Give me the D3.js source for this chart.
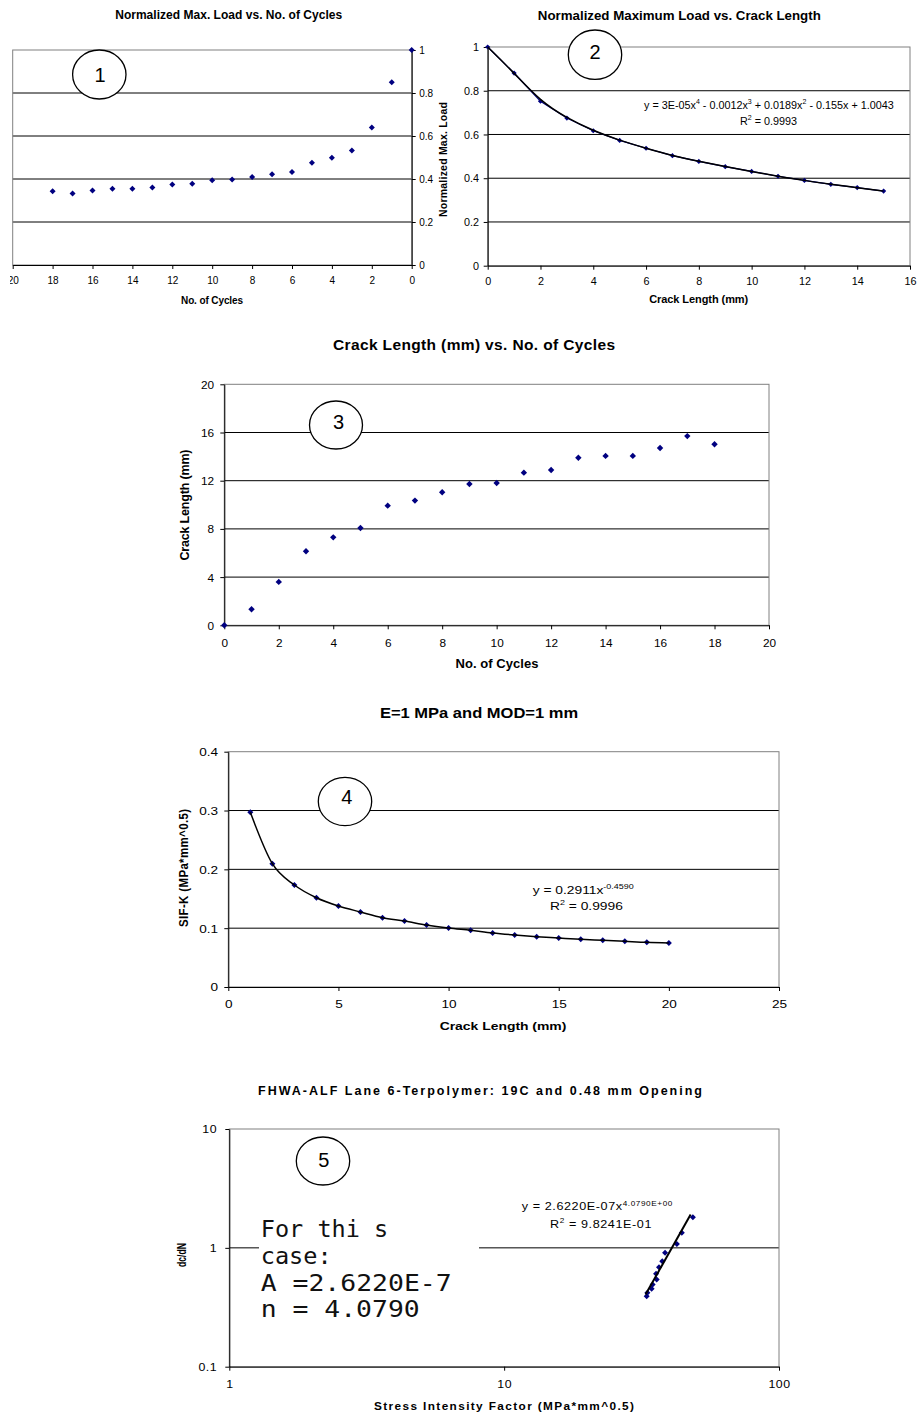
<!DOCTYPE html>
<html>
<head>
<meta charset="utf-8">
<script src="https://cdn.jsdelivr.net/npm/d3@7"></script>
<style>
  body { margin: 0; background: #fff; }
  svg { display: block; font-family: "Liberation Sans", Arial, sans-serif; }
</style>
</head>
<body>
<svg id="page" width="918" height="1418"></svg>
<script>
// chart 1: normalized max load vs cycles (reversed x)
var cycles1 = [18, 17, 16, 15, 14, 13, 12, 11, 10, 9, 8, 7, 6, 5, 4, 3, 2, 1, 0];
var load1 = [0.343, 0.332, 0.347, 0.355, 0.355, 0.360, 0.375, 0.378, 0.394, 0.398, 0.409, 0.422, 0.433, 0.476, 0.499, 0.533, 0.639, 0.850, 1.0];
var xTicks1 = [20, 18, 16, 14, 12, 10, 8, 6, 4, 2, 0];
var yTicks1 = [0, 0.2, 0.4, 0.6, 0.8, 1];

// chart 2: normalized max load vs crack length
var crack2 = [0, 1, 2, 3, 4, 5, 6, 7, 8, 9, 10, 11, 12, 13, 14, 15];
var load2 = [1.0, 0.881, 0.752, 0.675, 0.617, 0.573, 0.537, 0.503, 0.477, 0.453, 0.431, 0.409, 0.390, 0.372, 0.357, 0.341];
var xTicks2 = [0, 2, 4, 6, 8, 10, 12, 14, 16];
var yTicks2 = [0, 0.2, 0.4, 0.6, 0.8, 1];

// chart 3: crack length vs cycles
var cycles3 = [0, 1, 2, 3, 4, 5, 6, 7, 8, 9, 10, 11, 12, 13, 14, 15, 16, 17, 18];
var crack3 = [0, 1.33, 3.60, 6.14, 7.30, 8.08, 9.93, 10.35, 11.04, 11.73, 11.81, 12.67, 12.89, 13.91, 14.06, 14.06, 14.71, 15.70, 15.02];
var xTicks3 = [0, 2, 4, 6, 8, 10, 12, 14, 16, 18, 20];
var yTicks3 = [0, 4, 8, 12, 16, 20];

// chart 4: SIF-K vs crack length
var crack4 = [1, 2, 3, 4, 5, 6, 7, 8, 9, 10, 11, 12, 13, 14, 15, 16, 17, 18, 19, 20];
var sif4 = [0.297, 0.2096, 0.1734, 0.1518, 0.1377, 0.1275, 0.1178, 0.1122, 0.1054, 0.1003, 0.0963, 0.0918, 0.0884, 0.0856, 0.0833, 0.0810, 0.0793, 0.0776, 0.0759, 0.0750];
var xTicks4 = [0, 5, 10, 15, 20, 25];
var yTicks4 = [0, 0.1, 0.2, 0.3, 0.4];

// chart 5: dc/dN vs stress intensity factor (log-log)
var sif5 = [33.0, 33.2, 34.4, 34.7, 35.9, 35.7, 36.6, 37.6, 38.5, 42.5, 44.3, 48.6];
var dcdn5 = [0.392, 0.419, 0.452, 0.492, 0.542, 0.605, 0.687, 0.772, 0.908, 1.080, 1.337, 1.807];
var fitX5 = [32.7, 47.7];
var fitY5 = [0.405, 1.905];
var xTicks5 = [1, 10, 100];
var yTicks5 = [0.1, 1, 10];
var note5 = ['For thi s', 'case:', 'A =2.6220E-7', 'n = 4.0790'];

var svg = d3.select('#page');
var navy = '#000080';

function txt(g, str, x, y, o) {
  o = o || {};
  var tr = 'translate(' + x + ',' + y + ')';
  if (o.rotate) tr += ' rotate(-90)';
  if (o.sx) tr += o.rotate ? ' scale(1,' + o.sx + ')' : ' scale(' + o.sx + ',1)';
  var t = g.append('text')
    .attr('transform', tr)
    .attr('dy', o.dy == null ? '0.35em' : o.dy)
    .attr('text-anchor', o.anchor || 'middle')
    .style('font-size', (o.size || 10) + 'px')
    .style('font-weight', o.bold ? 'bold' : 'normal')
    .text(str);
  if (o.family) t.style('font-family', o.family);
  if (o.ls) t.style('letter-spacing', o.ls + 'px');
  if (o.len) t.attr('textLength', o.len).attr('lengthAdjust', o.adjust || 'spacing');
  return t;
}

// text with superscripts, parts = [[string, isSup], ...]
function eqn(g, parts, x, y, o) {
  var t = txt(g, '', x, y, o);
  var lift = 0;
  parts.forEach(function(p) {
    var s = t.append('tspan').text(p[0]);
    var want = p[1] ? -o.size * 0.4 : 0;
    if (want - lift !== 0) s.attr('dy', want - lift);
    if (p[1]) s.style('font-size', (o.size * 0.65) + 'px');
    lift = want;
  });
  return t;
}

function panel(g, x, y, c) {
  var X0 = x.range()[0], X1 = x.range()[1], Y0 = y.range()[1], Y1 = y.range()[0];
  g.selectAll(null).data(c.gridY).enter().append('line')
    .attr('x1', X0).attr('x2', X1)
    .attr('y1', function(d) { return y(d); })
    .attr('y2', function(d) { return y(d); })
    .attr('stroke', '#000').attr('stroke-width', 1);
  g.append('rect')
    .attr('x', X0).attr('y', Y0).attr('width', X1 - X0).attr('height', Y1 - Y0)
    .attr('fill', 'none').attr('stroke', '#808080');

  var sx = c.sx || 1;
  var xa = g.append('g').attr('transform', 'translate(0,' + Y1 + ')')
    .call(d3.axisBottom(x).tickValues(c.xTicks).tickFormat(d3.format('')).tickSize(4).tickSizeOuter(0));
  xa.selectAll('.tick text').attr('y', c.xOff).attr('dy', '0.35em');

  var right = c.side === 'right';
  var yaxis = right ? d3.axisRight(y) : d3.axisLeft(y);
  var ya = g.append('g').attr('transform', 'translate(' + (right ? X1 : X0) + ',0)')
    .call(yaxis.tickValues(c.yTicks).tickFormat(d3.format('')).tickSize(4).tickSizeOuter(0));
  ya.selectAll('.tick text').attr('x', c.yOff / sx).attr('dy', '0.34em');

  [xa, ya].forEach(function(a) {
    a.attr('font-family', null).attr('font-size', null);
    a.select('.domain').attr('stroke', '#000');
    a.selectAll('.tick line').attr('stroke', '#000');
    a.selectAll('.tick text').attr('fill', '#000')
      .style('font-size', c.size + 'px')
      .style('letter-spacing', c.ls ? c.ls + 'px' : null)
      .attr('transform', sx !== 1 ? 'scale(' + sx + ',1)' : null);
  });
}

function diamonds(g, xs, ys, x, y, r) {
  var sym = d3.symbol().type(d3.symbolSquare).size(2 * r * r);
  g.selectAll(null).data(xs).enter().append('path')
    .attr('d', sym)
    .attr('transform', function(d, i) {
      return 'translate(' + x(d) + ',' + y(ys[i]) + ') rotate(45)';
    })
    .attr('fill', navy);
}

function oval(g, cx, cy, rx, ry, num, nx, ny) {
  g.append('ellipse')
    .attr('cx', cx).attr('cy', cy).attr('rx', rx).attr('ry', ry)
    .attr('fill', '#fff').attr('stroke', '#000').attr('stroke-width', 1.3);
  txt(g, num, nx, ny, {size: 20});
}

// ---------- chart 1
svg.append('clipPath').attr('id', 'clip1')
  .append('rect').attr('x', 10).attr('y', 0).attr('width', 450).attr('height', 320);
var g1 = svg.append('g').attr('clip-path', 'url(#clip1)');
var x1 = d3.scaleLinear().domain([20, 0]).range([12.7, 411.7]);
var y1 = d3.scaleLinear().domain([0, 1]).range([265, 50]);
panel(g1, x1, y1, {gridY: [0.2, 0.4, 0.6, 0.8], xTicks: xTicks1, yTicks: yTicks1, side: 'right',
  size: 10, xOff: 15, yOff: 7.5});
oval(g1, 99.3, 74.5, 26.7, 24.5, '1', 100, 75);
diamonds(g1, cycles1, load1, x1, y1, 3);
txt(g1, 'Normalized Max. Load vs. No. of Cycles', 228.7, 14.7, {size: 12, bold: true, len: 227});
txt(g1, 'No. of Cycles', 212, 300, {size: 10, bold: true, len: 62});
txt(g1, 'Normalized Max. Load', 443, 159.5, {size: 10.5, bold: true, rotate: true, len: 115});

// ---------- chart 2
var g2 = svg.append('g');
var x2 = d3.scaleLinear().domain([0, 16]).range([487.7, 910]);
var y2 = d3.scaleLinear().domain([0, 1]).range([265.7, 47]);
panel(g2, x2, y2, {gridY: [0.2, 0.4, 0.6, 0.8], xTicks: xTicks2, yTicks: yTicks2,
  size: 10.8, xOff: 16, yOff: -8.7});
oval(g2, 595, 54.7, 26.7, 24.7, '2', 595, 52);
g2.append('path').datum(crack2)
  .attr('d', d3.line().x(function(d) { return x2(d); }).y(function(d, i) { return y2(load2[i]); }))
  .attr('fill', 'none').attr('stroke', navy).attr('stroke-width', 1.2);
diamonds(g2, crack2, load2, x2, y2, 2.6);
g2.append('path').datum(crack2)
  .attr('d', d3.line().curve(d3.curveBasis).x(function(d) { return x2(d); }).y(function(d, i) { return y2(load2[i]); }))
  .attr('fill', 'none').attr('stroke', '#000').attr('stroke-width', 1.5);
txt(g2, 'Normalized Maximum Load vs. Crack Length', 679.3, 15.7, {size: 13.3, bold: true, len: 283});
txt(g2, 'Crack Length (mm)', 698.7, 299.3, {size: 11, bold: true, len: 99});
eqn(g2, [['y = 3E-05x', 0], ['4', 1], [' - 0.0012x', 0], ['3', 1], [' + 0.0189x', 0], ['2', 1], [' - 0.155x + 1.0043', 0]],
  644, 105, {size: 10.8, anchor: 'start'});
eqn(g2, [['R', 0], ['2', 1], [' = 0.9993', 0]], 740, 121, {size: 10.8, anchor: 'start'});

// ---------- chart 3
var g3 = svg.append('g');
var x3 = d3.scaleLinear().domain([0, 20]).range([224.3, 769]);
var y3 = d3.scaleLinear().domain([0, 20]).range([625.3, 384.3]);
panel(g3, x3, y3, {gridY: [4, 8, 12, 16], xTicks: xTicks3, yTicks: yTicks3,
  size: 11.8, xOff: 17.7, yOff: -10.3});
oval(g3, 336, 425, 26.5, 24, '3', 338.5, 422);
diamonds(g3, cycles3, crack3, x3, y3, 3.2);
txt(g3, 'Crack Length (mm) vs. No. of Cycles', 474, 345, {size: 15.5, bold: true, len: 282});
txt(g3, 'No. of Cycles', 497, 663, {size: 13, bold: true, len: 83});
txt(g3, 'Crack Length (mm)', 185, 505, {size: 12.5, bold: true, rotate: true, len: 111});

// ---------- chart 4
var g4 = svg.append('g');
var x4 = d3.scaleLinear().domain([0, 25]).range([228.3, 779]);
var y4 = d3.scaleLinear().domain([0, 0.4]).range([987, 751.7]);
panel(g4, x4, y4, {gridY: [0.1, 0.2, 0.3], xTicks: xTicks4, yTicks: yTicks4,
  size: 11.3, sx: 1.2, xOff: 17, yOff: -10.3});
oval(g4, 345, 801.5, 26.7, 24.2, '4', 346.7, 796.7);
diamonds(g4, crack4, sif4, x4, y4, 3);
g4.append('path').datum(crack4)
  .attr('d', d3.line().curve(d3.curveMonotoneX).x(function(d) { return x4(d); }).y(function(d, i) { return y4(sif4[i]); }))
  .attr('fill', 'none').attr('stroke', '#000').attr('stroke-width', 1.5);
txt(g4, 'E=1 MPa and MOD=1 mm', 479, 713, {size: 14, bold: true, sx: 1.18});
txt(g4, 'Crack Length (mm)', 503, 1026, {size: 11.6, bold: true, sx: 1.2});
txt(g4, 'SIF-K (MPa*mm^0.5)', 183, 868, {size: 11.5, bold: true, rotate: true, sx: 1.15, len: 118});
eqn(g4, [['y = 0.2911x', 0], ['-0.4590', 1]], 532.7, 890, {size: 11.5, anchor: 'start', sx: 1.2});
eqn(g4, [['R', 0], ['2', 1], [' = 0.9996', 0]], 550, 906, {size: 11.5, anchor: 'start', sx: 1.2});

// ---------- chart 5
var g5 = svg.append('g');
var x5 = d3.scaleLog().domain([1, 100]).range([229.3, 779]);
var y5 = d3.scaleLog().domain([0.1, 10]).range([1366.7, 1129]);
panel(g5, x5, y5, {gridY: [1], xTicks: xTicks5, yTicks: yTicks5,
  size: 10.3, sx: 1.2, ls: 0.4, xOff: 17.3, yOff: -12.3});
oval(g5, 323, 1161, 26.7, 24, '5', 323.7, 1160);
g5.append('rect').attr('x', 259).attr('y', 1212).attr('width', 220).attr('height', 113).attr('fill', '#fff');
// note box: baselines and widths as measured
var noteY5 = [1236.7, 1264, 1290.7, 1317];
var noteW5 = [127.6, 71, 191, 159];
note5.forEach(function(s, i) {
  txt(g5, s, 260.7, noteY5[i], {size: 23, anchor: 'start', dy: 0, family: '"DejaVu Sans Mono", monospace',
    len: noteW5[i], adjust: 'spacingAndGlyphs'})
    .style('white-space', 'pre').attr('fill', '#111');
});
diamonds(g5, sif5, dcdn5, x5, y5, 3);
g5.append('path').datum(fitX5)
  .attr('d', d3.line().x(function(d) { return x5(d); }).y(function(d, i) { return y5(fitY5[i]); }))
  .attr('fill', 'none').attr('stroke', '#000').attr('stroke-width', 2);
txt(g5, 'FHWA-ALF Lane 6-Terpolymer: 19C and 0.48 mm Opening', 480, 1091, {size: 12.5, bold: true, len: 444});
txt(g5, 'Stress Intensity Factor (MPa*mm^0.5)', 504, 1406, {size: 11.8, bold: true, len: 260});
txt(g5, 'dc/dN', 182, 1255, {size: 10.5, bold: true, rotate: true, sx: 1.15, len: 24, adjust: 'spacingAndGlyphs'});
eqn(g5, [['y = 2.6220E-07x', 0], ['4.0790E+00', 1]], 521.7, 1206.7, {size: 10.5, anchor: 'start', sx: 1.2, ls: 0.5});
eqn(g5, [['R', 0], ['2', 1], [' = 9.8241E-01', 0]], 550, 1224, {size: 10.5, anchor: 'start', sx: 1.2, ls: 0.5});
</script>
</body>
</html>
